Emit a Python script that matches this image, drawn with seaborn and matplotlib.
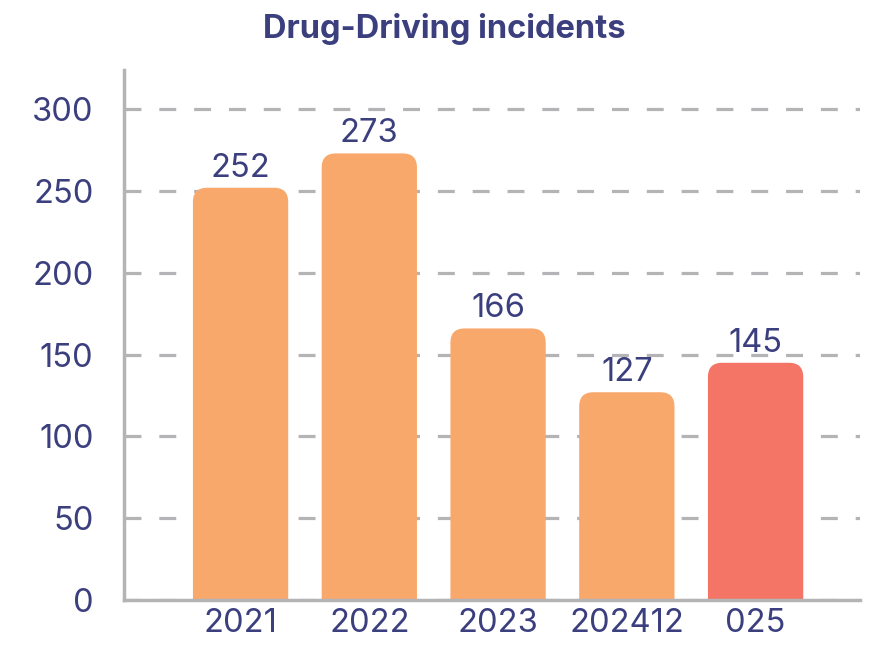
import matplotlib
matplotlib.use('Agg')
import matplotlib.pyplot as plt
from matplotlib.patches import FancyBboxPatch
import pandas as pd
import seaborn as sns

# Chart data
years = ['2021', '2022', '2023', '202412', '025']
incidents = [252, 273, 166, 127, 145]
bar_colors = ['#F9A86C', '#F9A86C', '#F9A86C', '#F9A86C', '#F47465']

navy = '#3B3F7E'
grey = '#B4B4B6'

sns.set_theme(style='white')
plt.rcParams['font.family'] = ['Inter', 'DejaVu Sans']

df = pd.DataFrame({'Year': years, 'Incidents': incidents})

fig = plt.figure(figsize=(8.76, 6.45), dpi=100)
ax = fig.add_axes([0.1416, 0.0698, 0.84, 0.8217])

sns.barplot(data=df, x='Year', y='Incidents', hue='Year', palette=bar_colors,
            saturation=1, legend=False, width=0.74, ax=ax, zorder=3)

ax.set_xlim(-0.905, 4.81)
ax.set_ylim(0, 324)

# swap plain bars for bars with rounded tops (bottom corners fall below the axis and get clipped)
px_per_x = (0.84 * 876) / (4.81 + 0.905)
px_per_y = (0.8217 * 645) / 324
radius = 0.11
for patch in list(ax.patches):
    x0, w, h = patch.get_x(), patch.get_width(), patch.get_height()
    fc = patch.get_facecolor()
    patch.remove()
    ax.add_patch(FancyBboxPatch((x0, -20), w, h + 20,
                                boxstyle=f'round,pad=0,rounding_size={radius}',
                                mutation_aspect=px_per_x / px_per_y,
                                fc=fc, ec='none', zorder=3))
    ax.text(x0 + w / 2, h + 2.5, f'{h:.0f}', ha='center', va='bottom',
            fontsize=23.5, color=navy, zorder=4)

ax.set_yticks(range(0, 301, 50))
ax.yaxis.grid(True, linestyle=(0, (5.3, 5.6)), linewidth=2.3, color=grey, zorder=0)
ax.xaxis.grid(False)
ax.set_xlabel('')
ax.set_ylabel('')
ax.tick_params(axis='both', length=0, labelsize=23.5, labelcolor=navy)
ax.tick_params(axis='y', pad=22)
ax.tick_params(axis='x', pad=6)

for side in ['top', 'right']:
    ax.spines[side].set_visible(False)
for side in ['left', 'bottom']:
    ax.spines[side].set_color(grey)
    ax.spines[side].set_linewidth(2.5)
    ax.spines[side].set_zorder(5)

fig.text(0.507, 0.955, 'Drug-Driving incidents', ha='center', va='center',
         fontsize=23.5, fontweight='bold', color=navy)

fig.savefig('out.png', dpi=100)
plt.close(fig)
